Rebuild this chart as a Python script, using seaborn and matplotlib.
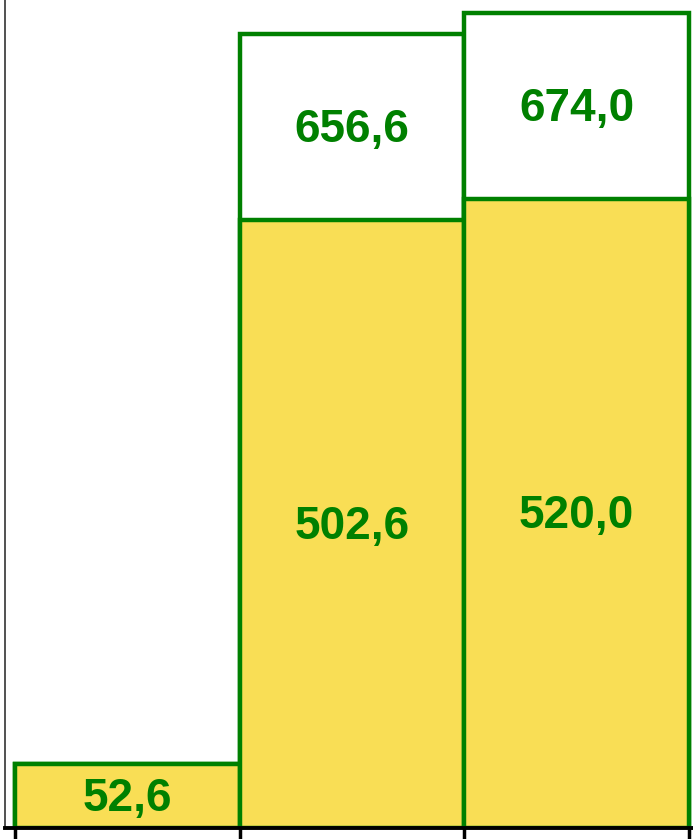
import pandas as pd
import seaborn as sns
import matplotlib.pyplot as plt

# Data
categories = ["1", "2", "3"]
base_values = [52.6, 502.6, 520.0]     # yellow part
total_values = [52.6, 656.6, 674.0]    # full bar (white top part)
show_total = [False, True, True]

df = pd.DataFrame({"cat": categories, "base": base_values, "total": total_values})

sns.set_style("white")
plt.rcParams["font.family"] = ["Liberation Sans", "DejaVu Sans"]

fig = plt.figure(figsize=(6.93, 8.39), dpi=100)
ax = fig.add_axes([5 / 693, 11 / 839, 1 - 5 / 693, 828 / 839])

green = "#008000"
yellow = "#F9DE55"

# total bars (white with green outline), then yellow base bars on top
sns.barplot(data=df, x="cat", y="total", order=categories, color="white",
            edgecolor=green, linewidth=3.2, width=1.0, saturation=1, ax=ax)
sns.barplot(data=df, x="cat", y="base", order=categories, color=yellow,
            edgecolor=green, linewidth=3.2, width=1.0, saturation=1, ax=ax)

def fmt(v):
    return f"{v:.1f}".replace(".", ",")

for i, (b, t, s) in enumerate(zip(base_values, total_values, show_total)):
    ax.text(i, b / 2 - 2, fmt(b), ha="center", va="center", color=green,
            fontsize=33, fontweight="bold")
    if s:
        ax.text(i, (b + t) / 2 - 2, fmt(t), ha="center", va="center", color=green,
                fontsize=33, fontweight="bold")

ax.set_xlim(-0.545, 2.518)
ax.set_ylim(0, 685)
ax.set_xlabel("")
ax.set_ylabel("")
ax.set_yticks([])
ax.set_xticks([-0.5, 0.5, 1.5, 2.5])
ax.set_xticklabels([])
ax.tick_params(axis="x", direction="out", length=12, width=2.5, color="black", bottom=True)

for side in ["top", "right"]:
    ax.spines[side].set_visible(False)
ax.spines["bottom"].set_color("black")
ax.spines["bottom"].set_linewidth(2.8)
ax.spines["bottom"].set_zorder(5)
ax.spines["left"].set_color("#333333")
ax.spines["left"].set_linewidth(1.2)

fig.savefig("out.png", dpi=100)
